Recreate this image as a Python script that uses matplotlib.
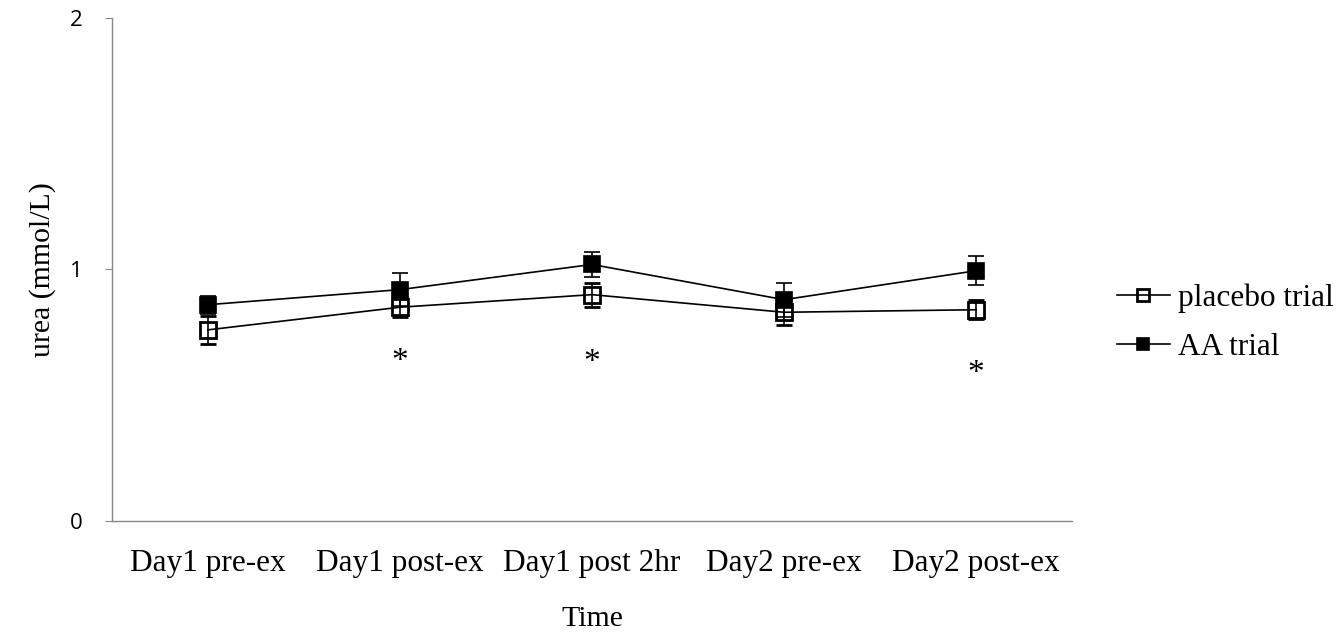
import matplotlib
matplotlib.use("Agg")
import matplotlib.pyplot as plt

# values
time_points = ["Day1 pre-ex", "Day1 post-ex", "Day1 post 2hr", "Day2 pre-ex", "Day2 post-ex"]
placebo_mean = [0.76, 0.85, 0.90, 0.83, 0.84]
placebo_err = [0.055, 0.04, 0.048, 0.05, 0.038]
aa_mean = [0.86, 0.92, 1.02, 0.88, 0.995]
aa_err = [0.035, 0.066, 0.05, 0.068, 0.058]
sig_index = [1, 2, 4]
sig_level = [0.635, 0.63, 0.585]

serif = "Liberation Serif"

fig = plt.figure(figsize=(13.39, 6.33), dpi=100)
ax = fig.add_axes([0.0836, 0.1769, 0.717, 0.7947])

x = list(range(len(time_points)))

ax.errorbar(x, placebo_mean, yerr=placebo_err, color="black", lw=1.2,
            marker="s", markersize=11, mfc="none", mec="black", mew=2,
            capsize=6, elinewidth=1.2, capthick=1.2, label="placebo trial")
ax.errorbar(x, aa_mean, yerr=aa_err, color="black", lw=1.2,
            marker="s", markersize=11, mfc="black", mec="black", mew=1.2,
            capsize=6, elinewidth=1.2, capthick=1.2, label="AA trial")

for i, lvl in zip(sig_index, sig_level):
    ax.text(x[i], lvl, "*", ha="center", va="center", fontsize=24, family=serif)

ax.set_xlim(-0.5, len(time_points) - 0.5)
ax.set_ylim(0, 2)
ax.set_yticks([0, 1, 2])
ax.set_yticklabels(["0", "1", "2"], family="Open Sans", fontsize=16)
ax.set_xticks(x)
ax.set_xticklabels(time_points, family=serif, fontsize=22.5)
ax.tick_params(axis="x", length=0, pad=20)
ax.tick_params(axis="y", length=5, color="#888888", direction="out", pad=16)

for side in ["top", "right"]:
    ax.spines[side].set_visible(False)
for side in ["left", "bottom"]:
    ax.spines[side].set_color("#888888")
    ax.spines[side].set_linewidth(1)

ax.set_xlabel("Time", family=serif, fontsize=21.5, labelpad=20)
ax.set_ylabel("urea (mmol/L)", family=serif, fontsize=21.5, labelpad=10)

handles, labels = ax.get_legend_handles_labels()
handles = [h[0] for h in handles]
leg = fig.legend(handles, labels, loc="center left", bbox_to_anchor=(0.813, 0.49),
                 frameon=False, prop={"family": serif, "size": 22.5},
                 handlelength=1.7, handletextpad=0.25, labelspacing=0.62, markerscale=0.75)

fig.savefig("out.png", dpi=100)
